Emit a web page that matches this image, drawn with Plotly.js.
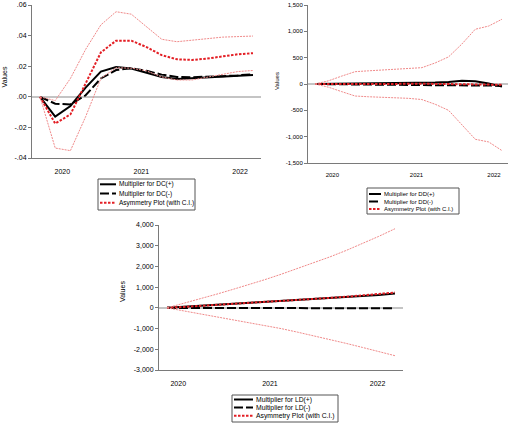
<!DOCTYPE html>
<html><head><meta charset="utf-8">
<script src="https://cdn.plot.ly/plotly-3.0.1.min.js"></script>
<style>html,body{margin:0;padding:0;background:#fff}</style>
</head><body><div id="chart" style="width:510px;height:425px"></div>
<script>
// ---- data ----
const steps = [0,1,2,3,4,5,6,7,8,9,10,11,12,13,14];
const yearLabels = ['2020','2021','2022'];
const dcYearPos = [1.47, 6.66, 13.15];
const ddYearPos = [1.3, 7.6, 13.4];
const ldYearPos = [0.69, 6.32, 12.93];

const dcPos   = [0,-0.013,-0.006,0.006,0.0165,0.0195,0.0185,0.0155,0.013,0.0117,0.0123,0.0128,0.0133,0.0138,0.0143];
const dcNeg   = [0,-0.0045,-0.005,0.001,0.012,0.0175,0.0187,0.017,0.0145,0.013,0.0128,0.013,0.0135,0.014,0.0148];
const dcAsym  = [0,-0.0175,-0.0115,0.009,0.029,0.0367,0.0367,0.0325,0.0272,0.0245,0.0241,0.025,0.0262,0.0278,0.0285];
const dcUpper = [0,-0.0025,0.012,0.031,0.047,0.0556,0.054,0.046,0.0376,0.036,0.0368,0.038,0.039,0.0395,0.0397];
const dcLower = [0,-0.0335,-0.0352,-0.013,0.012,0.019,0.0187,0.017,0.013,0.011,0.011,0.0128,0.0143,0.0165,0.0172];

const ddPos   = [0,2,5,8,10,12,14,17,22,28,40,60,50,10,-50];
const ddNeg   = [0,-5,-8,-10,-12,-14,-16,-18,-20,-22,-24,-26,-28,-30,-32];
const ddAsym  = [0,2,4,5,6,6,5,4,3,2,0,-2,-5,-10,-15];
const ddUpper = [0,60,150,234,250,262,275,290,310,400,515,760,1040,1100,1230];
const ddLower = [0,-60,-145,-228,-242,-250,-258,-272,-295,-385,-500,-780,-1050,-1100,-1265];

const ldPos   = [0,45,90,135,180,225,270,315,360,405,455,505,560,620,690];
const ldNeg   = [0,-5,-8,-10,-12,-12,-13,-13,-14,-14,-15,-15,-15,-16,-16];
const ldAsym  = [0,45,95,140,185,235,285,330,380,430,480,535,595,660,740];
const ldUpper = [0,210,430,650,880,1110,1360,1620,1890,2170,2460,2770,3100,3450,3820];
const ldLower = [0,-140,-280,-420,-560,-705,-850,-1000,-1170,-1345,-1525,-1715,-1910,-2110,-2310];

const dcTickVals = [0.06,0.04,0.02,0,-0.02,-0.04];
const dcTickText = ['.06','.04','.02','.00','-.02','-.04'];
const ddTickVals = [1500,1000,500,0,-500,-1000,-1500];
const ddTickText = ['1,500','1,000','500','0','-500','-1,000','-1,500'];
const ldTickVals = [4000,3000,2000,1000,0,-1000,-2000,-3000];
const ldTickText = ['4,000','3,000','2,000','1,000','0','-1,000','-2,000','-3,000'];

const dcNames = ['Multiplier for DC(+)','Multiplier for DC(-)','Asymmetry Plot (with C.I.)'];
const ddNames = ['Multiplier for DD(+)','Multiplier for DD(-)','Asymmetry Plot (with C.I.)'];
const ldNames = ['Multiplier for LD(+)','Multiplier for LD(-)','Asymmetry Plot (with C.I.)'];

// ---- styling ----
const W = 510, H = 425;
const fx = x => x / W, fy = y => 1 - y / H;
const FONT = 'Liberation Sans, Arial, sans-serif';
const STY = {
  pos:  {color:'#000000', width:2, dash:'solid'},
  neg:  {color:'#000000', width:2, dash:'9px,3px'},
  asym: {color:'#e31e24', width:2, dash:'2.5px,1.5px'},
  ci:   {color:'#f08a8a', width:1, dash:'2px,1px'}
};

function traces(xa, ya, names, pos, neg, asym, up, lo) {
  const mk = (y, st, name) => ({x: steps, y: y, xaxis: xa, yaxis: ya, mode:'lines', name: name,
    line:{color: st.color, width: st.width, dash: st.dash}, showlegend:false, hoverinfo:'skip'});
  return [mk(pos, STY.pos, names[0]), mk(neg, STY.neg, names[1]), mk(asym, STY.asym, names[2]),
          mk(up, STY.ci, names[2]+' upper'), mk(lo, STY.ci, names[2]+' lower')];
}

const data = [].concat(
  traces('x','y', dcNames, dcPos, dcNeg, dcAsym, dcUpper, dcLower),
  traces('x2','y2', ddNames, ddPos, ddNeg, ddAsym, ddUpper, ddLower),
  traces('x3','y3', ldNames, ldPos, ldNeg, ldAsym, ldUpper, ldLower)
);

function xAxis(p, tickPos, fs, anchor) {
  const per = (p.d1 - p.d0) / 14;
  return {domain:[fx(p.left), fx(p.right)], anchor: anchor,
    range:[-(p.d0 - p.left)/per, 14 + (p.right - p.d1)/per],
    showline:true, linecolor:'#7a7a7a', linewidth:1, showgrid:false, zeroline:false,
    ticks:'', tickvals: tickPos, ticktext: yearLabels, ticklabelstandoff: p.xs,
    tickfont:{family:FONT, size:fs, color:'#000'}, fixedrange:true};
}
function yAxis(p, vals, text, range, fs, anchor) {
  return {domain:[fy(p.bottom), fy(p.top)], anchor: anchor, range: range,
    showline:true, linecolor:'#7a7a7a', linewidth:1, showgrid:false,
    zeroline:true, zerolinecolor:'#c4c4c4', zerolinewidth:1.5,
    ticks:'outside', ticklen:3, tickcolor:'#7a7a7a', tickwidth:1,
    tickvals: vals, ticktext: text, tickfont:{family:FONT, size:fs, color:'#000'}, fixedrange:true};
}

const P1 = {left:32, right:261, d0:40, d1:253, top:5, bottom:158, xs:7};
const P2 = {left:308, right:508, d0:315, d1:502, top:5, bottom:163, xs:6};
const P3 = {left:159, right:403, d0:167, d1:395, top:225, bottom:370, xs:7};

const shapes = [], annotations = [];
function legend(box, rows, sx0, sx1, tx, fs, names) {
  shapes.push({type:'rect', xref:'paper', yref:'paper', x0:fx(box[0]), x1:fx(box[1]), y0:fy(box[3]), y1:fy(box[2]),
    line:{color:'#555', width:1}, fillcolor:'rgba(0,0,0,0)'});
  const st = [STY.pos, STY.neg, STY.asym];
  rows.forEach((ry, i) => {
    shapes.push({type:'line', xref:'paper', yref:'paper', x0:fx(sx0), x1:fx(sx1), y0:fy(ry), y1:fy(ry),
      line:{color: st[i].color, width: st[i].width, dash: st[i].dash}});
    annotations.push({xref:'paper', yref:'paper', x:fx(tx), y:fy(ry), xanchor:'left', yanchor:'middle',
      text: names[i], showarrow:false, font:{family:FONT, size:fs, color:'#000'}});
  });
}
legend([98,195,179,210], [184.3,193.5,202.8], 100, 116, 117, 6.5, dcNames);
legend([367,459,188,214], [194,201.5,209], 369, 381, 382, 6, ddNames);
legend([232,338,395,422], [399.5,407.5,415.8], 234, 253, 254, 6.8, ldNames);

function vtitle(x, y, fs) {
  annotations.push({xref:'paper', yref:'paper', x:fx(x), y:fy(y), xanchor:'center', yanchor:'middle',
    text:'Values', textangle:-90, showarrow:false, font:{family:FONT, size:fs, color:'#000'}});
}
vtitle(4.5, 77, 7);
vtitle(277, 81, 6);
vtitle(122, 292, 7);

const layout = {
  width: W, height: H, autosize:false,
  margin:{l:0, r:0, t:0, b:0, pad:0},
  paper_bgcolor:'#fff', plot_bgcolor:'rgba(0,0,0,0)',
  showlegend:false,
  xaxis: xAxis(P1, dcYearPos, 7, 'y'),
  yaxis: yAxis(P1, dcTickVals, dcTickText, [-0.04, 0.06], 7, 'x'),
  xaxis2: xAxis(P2, ddYearPos, 6, 'y2'),
  yaxis2: yAxis(P2, ddTickVals, ddTickText, [-1500, 1500], 6, 'x2'),
  xaxis3: xAxis(P3, ldYearPos, 7, 'y3'),
  yaxis3: yAxis(P3, ldTickVals, ldTickText, [-3000, 4000], 7, 'x3'),
  shapes: shapes, annotations: annotations
};

Plotly.newPlot('chart', data, layout, {staticPlot:true, displayModeBar:false});
</script>
</body></html>
